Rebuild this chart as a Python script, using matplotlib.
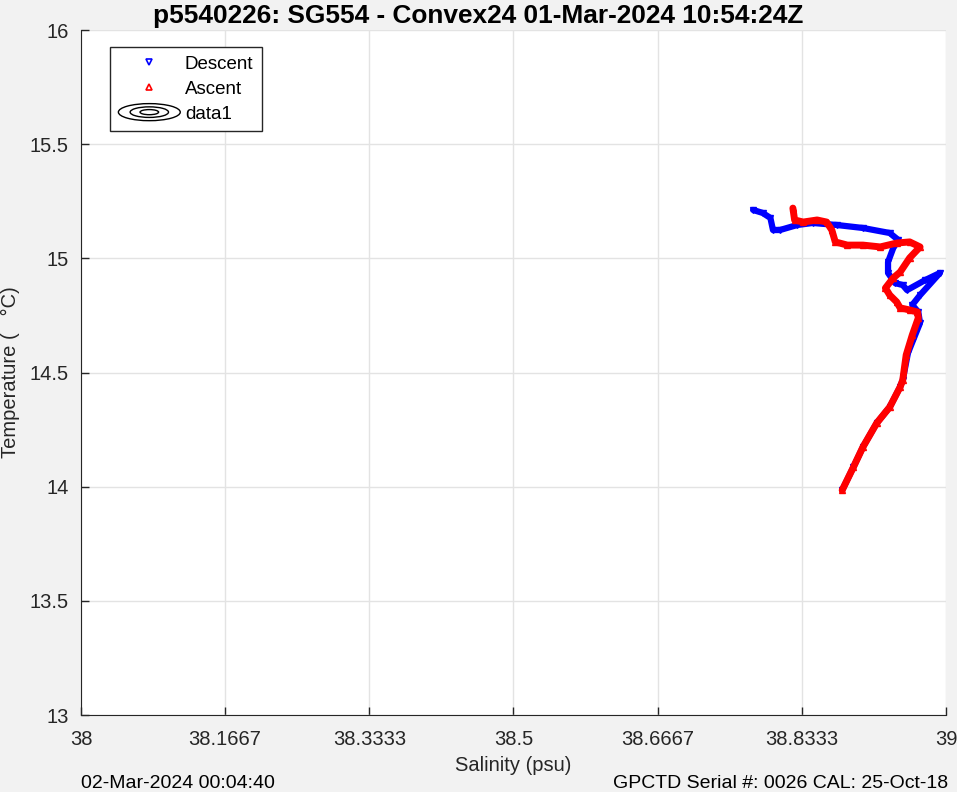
"""Diagrama T-S de un perfil del glider SG554."""

import matplotlib

matplotlib.use("Agg")
import matplotlib.pyplot as plt
from matplotlib.legend_handler import HandlerBase
from matplotlib.lines import Line2D
from matplotlib.patches import Ellipse

plt.rcParams["font.family"] = ["Liberation Sans", "DejaVu Sans"]

# descenso (triangulos azules), de la superficie al fondo
sal_descenso = [38.777, 38.788, 38.797, 38.800, 38.808, 38.828, 38.846, 38.874,
                38.904, 38.935, 38.945, 38.939, 38.933, 38.933, 38.941, 38.950,
                38.955, 38.976, 38.993, 38.970, 38.961, 38.968, 38.970, 38.962,
                38.956, 38.950, 38.947, 38.935, 38.920, 38.904, 38.893, 38.880]
temp_descenso = [15.212, 15.199, 15.177, 15.124, 15.124, 15.146, 15.155, 15.146,
                 15.133, 15.111, 15.080, 15.045, 14.984, 14.936, 14.892, 14.883,
                 14.861, 14.905, 14.936, 14.839, 14.796, 14.765, 14.717, 14.642,
                 14.585, 14.467, 14.437, 14.349, 14.279, 14.174, 14.086, 13.985]

# ascenso (triangulos rojos), del fondo a la superficie
sal_ascenso = [38.880, 38.893, 38.904, 38.920, 38.935, 38.947, 38.950, 38.954,
               38.961, 38.968, 38.967, 38.958, 38.947, 38.943, 38.935, 38.930,
               38.939, 38.947, 38.958, 38.970, 38.958, 38.943, 38.924, 38.904,
               38.886, 38.872, 38.868, 38.862, 38.851, 38.835, 38.825, 38.823]
temp_ascenso = [13.985, 14.086, 14.174, 14.279, 14.349, 14.437, 14.467, 14.577,
                14.664, 14.739, 14.765, 14.774, 14.783, 14.809, 14.839, 14.870,
                14.914, 14.940, 15.002, 15.050, 15.072, 15.067, 15.050, 15.058,
                15.058, 15.072, 15.124, 15.159, 15.168, 15.159, 15.168, 15.220]

ticks_x = [38, 38 + 1 / 6, 38 + 2 / 6, 38.5, 38 + 4 / 6, 38 + 5 / 6, 39]
etiquetas_x = ["38", "38.1667", "38.3333", "38.5", "38.6667", "38.8333", "39"]
ticks_y = [13, 13.5, 14, 14.5, 15, 15.5, 16]
etiquetas_y = ["13", "13.5", "14", "14.5", "15", "15.5", "16"]

GRIS_TEXTO = "#262626"


class HandlerContorno(HandlerBase):
    """Icono de leyenda con elipses concentricas, como el de un contour."""

    def create_artists(self, legend, orig_handle, xdescent, ydescent,
                       width, height, fontsize, trans):
        cx = width / 2 - xdescent
        cy = height / 2 - ydescent
        artistas = []
        for escala in (1.0, 0.62, 0.3):
            elipse = Ellipse((cx, cy), width * escala, height * 1.3 * escala,
                             fill=False, edgecolor="black", lw=1.0, transform=trans)
            artistas.append(elipse)
        return artistas


fig = plt.figure(figsize=(9.57, 7.92), dpi=100, facecolor="#f2f2f2")
ax = fig.add_axes([0.0846, 0.0972, 0.9039, 0.8649])
ax.set_facecolor("white")

ax.plot(sal_descenso, temp_descenso, color="blue", lw=4.5, marker="v",
        markersize=5, markerfacecolor="none", markeredgewidth=1.0,
        solid_joinstyle="round", solid_capstyle="round", zorder=3)
ax.plot(sal_ascenso, temp_ascenso, color="red", lw=5.0, marker="^",
        markersize=5, markerfacecolor="none", markeredgewidth=1.0,
        solid_joinstyle="round", solid_capstyle="round", zorder=4)

ax.set_xlim(38, 39)
ax.set_ylim(13, 16)
ax.set_xticks(ticks_x)
ax.set_xticklabels(etiquetas_x)
ax.set_yticks(ticks_y)
ax.set_yticklabels(etiquetas_y)
ax.grid(True, color="#e3e3e3", lw=1.0)
ax.set_axisbelow(True)
ax.tick_params(direction="in", length=6, width=1, colors=GRIS_TEXTO,
               labelsize=14.5)
ax.tick_params(axis="x", pad=11)
ax.tick_params(axis="y", pad=9)
for lado in ("top", "right"):
    ax.spines[lado].set_visible(False)
for lado in ("left", "bottom"):
    ax.spines[lado].set_color(GRIS_TEXTO)

fig.text(0.5, 0.9795, "p5540226: SG554 - Convex24 01-Mar-2024 10:54:24Z",
         fontsize=18.9, fontweight="bold", ha="center", va="center")
ax.set_xlabel("Salinity (psu)", fontsize=14.5, color=GRIS_TEXTO, labelpad=5)
ax.set_ylabel("Temperature (   \u00b0C)", fontsize=14.5, color=GRIS_TEXTO)
ax.yaxis.set_label_coords(-0.071, 0.5)

fig.text(0.0846, 0.0, "02-Mar-2024 00:04:40", fontsize=14, color="black",
         ha="left", va="bottom")
fig.text(0.991, 0.0, "GPCTD Serial #: 0026 CAL: 25-Oct-18", fontsize=14,
         color="black", ha="right", va="bottom")

manejadores = [
    Line2D([], [], color="blue", ls="none", marker="v", markersize=5,
           markerfacecolor="none", markeredgewidth=1.2),
    Line2D([], [], color="red", ls="none", marker="^", markersize=5,
           markerfacecolor="none", markeredgewidth=1.2),
    Ellipse((0, 0), 1, 1),
]
leyenda = ax.legend(manejadores, ["Descent", "Ascent", "data1"],
                    handler_map={Ellipse: HandlerContorno()},
                    loc="upper left", bbox_to_anchor=(0.0335, 0.975),
                    borderaxespad=0, fontsize=13.5, frameon=True, fancybox=False,
                    edgecolor=GRIS_TEXTO, framealpha=1, borderpad=0.45,
                    labelspacing=0.42, handlelength=3.3, handletextpad=0.25)
leyenda.get_frame().set_linewidth(1.0)

fig.savefig("out.png", dpi=100, facecolor=fig.get_facecolor())
